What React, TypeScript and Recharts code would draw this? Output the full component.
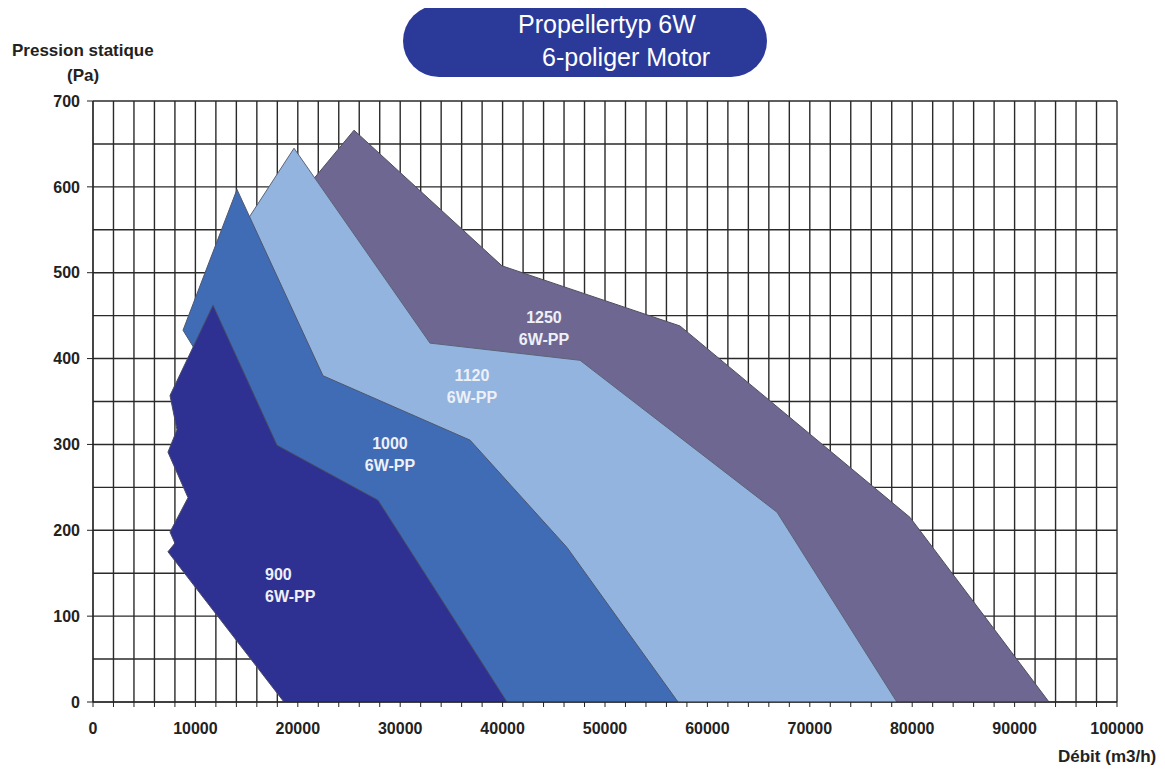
import { ComposedChart, Area, XAxis, YAxis, CartesianGrid, ReferenceDot } from "recharts"

// Kennfelder (Débit m3/h, Pression statique Pa), gelesen aus dem Diagramm
const fan900 = [
  { x: 18650, y: 0 },
  { x: 7320, y: 175 },
  { x: 8000, y: 185 },
  { x: 7520, y: 198 },
  { x: 9280, y: 238 },
  { x: 7320, y: 291 },
  { x: 8200, y: 317 },
  { x: 7520, y: 357 },
  { x: 11720, y: 462 },
  { x: 17970, y: 299 },
  { x: 27830, y: 235 },
  { x: 40430, y: 0 },
]

const fan1000 = [
  { x: 20000, y: 0 },
  { x: 10500, y: 400 },
  { x: 8790, y: 433 },
  { x: 14060, y: 597 },
  { x: 22460, y: 380 },
  { x: 36820, y: 305 },
  { x: 46290, y: 180 },
  { x: 57130, y: 0 },
]

const fan1120 = [
  { x: 30000, y: 0 },
  { x: 20000, y: 300 },
  { x: 15000, y: 560 },
  { x: 19630, y: 645 },
  { x: 32910, y: 418 },
  { x: 47560, y: 398 },
  { x: 66800, y: 221 },
  { x: 78500, y: 0 },
]

const fan1250 = [
  { x: 50000, y: 0 },
  { x: 30000, y: 400 },
  { x: 21600, y: 610 },
  { x: 25490, y: 666 },
  { x: 39940, y: 508 },
  { x: 57320, y: 438 },
  { x: 79790, y: 215 },
  { x: 93360, y: 0 },
]

const seriesLabels = [
  { x: 16800, y: 142, size: "900", anchor: "start" },
  { x: 29000, y: 295, size: "1000", anchor: "middle" },
  { x: 37010, y: 374, size: "1120", anchor: "middle" },
  { x: 44040, y: 441, size: "1250", anchor: "middle" },
]

const yTicks = [0, 100, 200, 300, 400, 500, 600, 700]
const xLabelTicks = [0, 10000, 20000, 30000, 40000, 50000, 60000, 70000, 80000, 90000, 100000]

const xMinor = Array.from({ length: 51 }, (_, i) => i * 2000)
const yMinor = Array.from({ length: 15 }, (_, i) => i * 50)

const FONT = "'Liberation Sans', Arial, sans-serif"
const tickStyle = { fontSize: 16, fontWeight: 700, fill: "#222", fontFamily: FONT }

function SeriesLabel(props: any) {
  const { cx, cy, anchor, size } = props
  if (cx == null || cy == null) return null
  return (
    <text
      x={cx}
      y={cy}
      textAnchor={anchor}
      fill="#eef0f8"
      fontFamily={FONT}
      fontSize={16}
      fontWeight={700}
    >
      <tspan x={cx}>{size}</tspan>
      <tspan x={cx} dy={22}>6W-PP</tspan>
    </text>
  )
}

export default function App() {
  return (
    <div style={{ position: "relative", width: 1150, height: 760, fontFamily: FONT }}>
      <div
        style={{
          position: "absolute",
          left: 395,
          top: -3,
          width: 364,
          height: 72,
          borderRadius: 36,
          background: "#2b3a99",
        }}
      />
      <div style={{ position: "absolute", left: 510, top: -1, color: "#fff", fontSize: 25, whiteSpace: "nowrap", lineHeight: "34px" }}>
        Propellertyp 6W
      </div>
      <div style={{ position: "absolute", left: 534, top: 32, color: "#fff", fontSize: 25, whiteSpace: "nowrap", lineHeight: "34px" }}>
        6-poliger Motor
      </div>
      <div style={{ position: "absolute", left: 4, top: 33, fontSize: 17, fontWeight: 700, color: "#222", whiteSpace: "nowrap" }}>
        Pression statique
      </div>
      <div style={{ position: "absolute", left: 59, top: 58, fontSize: 17, fontWeight: 700, color: "#222" }}>(Pa)</div>
      <div style={{ position: "absolute", left: 1050, top: 739, fontSize: 17, fontWeight: 700, color: "#222", whiteSpace: "nowrap" }}>
        Débit (m3/h)
      </div>

      <ComposedChart width={1150} height={760} margin={{ top: 93, right: 41, bottom: 36, left: 0 }}>
        <CartesianGrid
          stroke="#2a2a2a"
          strokeWidth={1.4}
          verticalValues={xMinor}
          horizontalValues={yMinor}
        />
        <XAxis
          type="number"
          dataKey="x"
          domain={[0, 100000]}
          ticks={xMinor}
          interval={0}
          allowDataOverflow
          tickFormatter={(v: number) => (xLabelTicks.includes(v) ? String(v) : "")}
          tick={tickStyle}
          tickSize={5}
          tickMargin={16}
          height={30}
          stroke="#222"
        />
        <YAxis
          type="number"
          domain={[0, 700]}
          ticks={yTicks}
          interval={0}
          allowDataOverflow
          tick={tickStyle}
          tickSize={6}
          tickMargin={7}
          width={85}
          stroke="#222"
        />
        <Area data={fan1250} dataKey="y" type="linear" fill="#6e6791" fillOpacity={1} stroke="#4d4d5e" strokeWidth={1} isAnimationActive={false} dot={false} activeDot={false} />
        <Area data={fan1120} dataKey="y" type="linear" fill="#93b4de" fillOpacity={1} stroke="#5a6478" strokeWidth={1} isAnimationActive={false} dot={false} activeDot={false} />
        <Area data={fan1000} dataKey="y" type="linear" fill="#3f6cb4" fillOpacity={1} stroke="#4d5670" strokeWidth={1} isAnimationActive={false} dot={false} activeDot={false} />
        <Area data={fan900} dataKey="y" type="linear" fill="#2e3192" fillOpacity={1} stroke="#4a4a66" strokeWidth={1} isAnimationActive={false} dot={false} activeDot={false} />
        {seriesLabels.map((l) => (
          <ReferenceDot
            key={l.size}
            x={l.x}
            y={l.y}
            r={0}
            ifOverflow="visible"
            shape={(p: any) => <SeriesLabel {...p} anchor={l.anchor} size={l.size} />}
          />
        ))}
      </ComposedChart>
    </div>
  )
}
